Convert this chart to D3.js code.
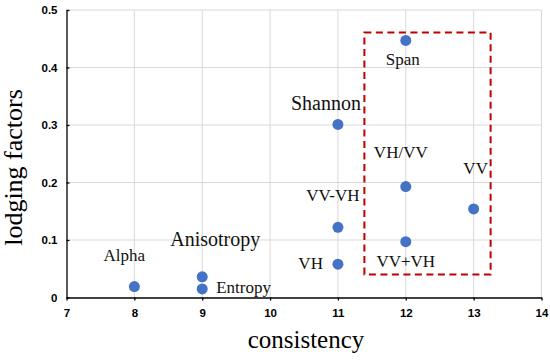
<!DOCTYPE html>
<html lang="en">
<head>
	<meta charset="UTF-8">
	<title>lodging factors</title>
	<style>
		body { margin: 0; background: #fff; }
	</style>
</head>
<body>
</body>
<script src="https://cdn.jsdelivr.net/npm/d3@7"></script>
<script>
	// data
	var names = ["Alpha", "Anisotropy", "Entropy", "Shannon", "VV-VH", "VH", "Span", "VH/VV", "VV+VH", "VV"];
	var consistency = [8, 9, 9, 11, 11, 11, 12, 12, 12, 13];
	var lodging = [0.019, 0.036, 0.015, 0.301, 0.122, 0.058, 0.447, 0.193, 0.097, 0.154];
	var xTicks = [7, 8, 9, 10, 11, 12, 13, 14];
	var yTicks = [0, 0.1, 0.2, 0.3, 0.4, 0.5];
	// dashed box around the selected factors, in data units [x0, x1, y0, y1]
	var box = [11.39, 13.25, 0.040, 0.461];

	// label placement (px offset from the point, anchor, size)
	var labelPos = [
		[-10, -26, "middle", 17],
		[13, -31, "middle", 20],
		[14, 4, "start", 17],
		[-12, -14, "middle", 20],
		[-5, -26, "middle", 17],
		[-15, 5, "end", 17],
		[-3, 25, "middle", 17],
		[-5, -29, "middle", 17],
		[0, 25, "middle", 17],
		[2, -35, "middle", 17]
	];

	var width = 550, height = 360;
	var padding = {top: 10, left: 66.5, right: 8.5, bottom: 62.5};

	var svg = d3.select('body')
				.append('svg')
				.attr('width', width)
				.attr('height', height);

	var xScale = d3.scaleLinear()
				.domain([7, 14])
				.range([padding.left, width - padding.right]);
	var yScale = d3.scaleLinear()
				.domain([0, 0.5])
				.range([height - padding.bottom, padding.top]);

	// grid
	svg.append('g').selectAll('line')
		.data(xTicks.slice(1))
		.enter().append('line')
		.attr('x1', function(d){ return xScale(d); })
		.attr('x2', function(d){ return xScale(d); })
		.attr('y1', yScale(0))
		.attr('y2', yScale(0.5))
		.attr('stroke', '#d9d9d9')
		.attr('stroke-width', 1);
	svg.append('g').selectAll('line')
		.data(yTicks.slice(1))
		.enter().append('line')
		.attr('x1', xScale(7))
		.attr('x2', xScale(14))
		.attr('y1', function(d){ return yScale(d); })
		.attr('y2', function(d){ return yScale(d); })
		.attr('stroke', '#d9d9d9')
		.attr('stroke-width', 1);

	// axes
	var xAxis = d3.axisBottom(xScale).tickValues(xTicks).tickSizeInner(3).tickSizeOuter(0).tickPadding(8)
				.tickFormat(d3.format("d"));
	var yAxis = d3.axisLeft(yScale).tickValues(yTicks).tickSizeInner(-3).tickSizeOuter(0).tickPadding(9)
				.tickFormat(function(d){ return d === 0 ? "0" : d3.format(".1f")(d); });

	var gx = svg.append('g')
		.attr('transform', 'translate(0,' + yScale(0) + ')')
		.call(xAxis);
	var gy = svg.append('g')
		.attr('transform', 'translate(' + xScale(7) + ',0)')
		.call(yAxis);

	[gx, gy].forEach(function(g){
		g.selectAll('path, line').attr('stroke', '#000').attr('stroke-width', 1.3);
		g.selectAll('text')
			.attr('fill', '#000')
			.style('font-family', 'Liberation Sans, Arial, sans-serif')
			.style('font-weight', 'bold')
			.style('font-size', '11.5px');
	});

	// dashed box
	svg.append('rect')
		.attr('x', xScale(box[0]))
		.attr('y', yScale(box[3]))
		.attr('width', xScale(box[1]) - xScale(box[0]))
		.attr('height', yScale(box[2]) - yScale(box[3]))
		.attr('fill', 'none')
		.attr('stroke', '#c00000')
		.attr('stroke-width', 2)
		.attr('stroke-dasharray', '7,4.5');

	// points
	svg.selectAll('circle')
		.data(names)
		.enter()
		.append('circle')
		.attr('cx', function(d, i){ return xScale(consistency[i]); })
		.attr('cy', function(d, i){ return yScale(lodging[i]); })
		.attr('r', 5.5)
		.attr('fill', '#4472c4');

	// point labels
	svg.selectAll('text.lab')
		.data(names)
		.enter()
		.append('text')
		.attr('class', 'lab')
		.attr('x', function(d, i){ return xScale(consistency[i]) + labelPos[i][0]; })
		.attr('y', function(d, i){ return yScale(lodging[i]) + labelPos[i][1]; })
		.attr('text-anchor', function(d, i){ return labelPos[i][2]; })
		.style('font-size', function(d, i){ return labelPos[i][3] + 'px'; })
		.style('font-family', 'Liberation Serif, Times New Roman, serif')
		.attr('fill', '#111')
		.text(function(d){ return d; });

	// axis titles
	svg.append('text')
		.attr('x', (xScale(7) + xScale(14)) / 2 + 2)
		.attr('y', 348)
		.attr('text-anchor', 'middle')
		.style('font-family', 'Liberation Serif, Times New Roman, serif')
		.style('font-size', '25px')
		.text('consistency');

	svg.append('text')
		.attr('transform', 'translate(22,' + 167.5 + ') rotate(-90)')
		.attr('text-anchor', 'middle')
		.style('font-family', 'Liberation Serif, Times New Roman, serif')
		.style('font-size', '26px')
		.text('lodging factors');
</script>
</html>
